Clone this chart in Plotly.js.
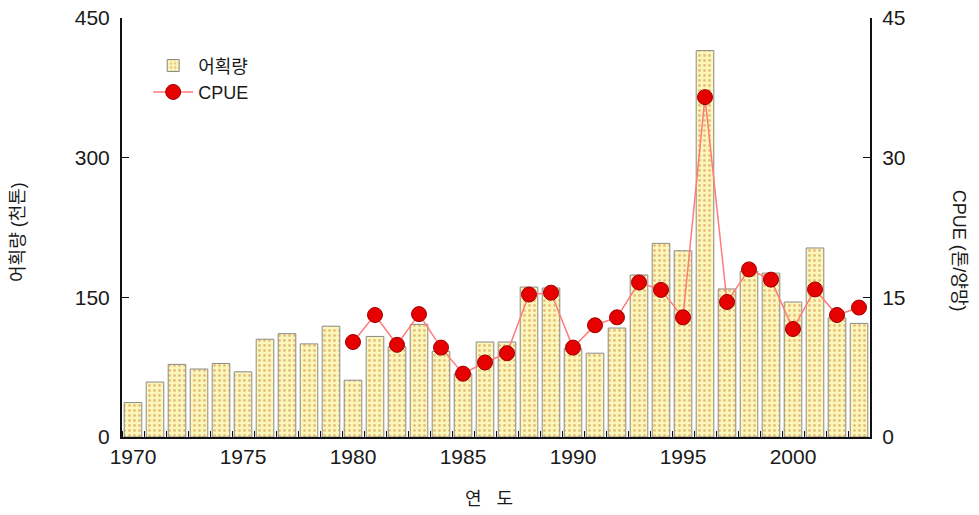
<!DOCTYPE html>
<html>
<head>
<meta charset="utf-8">
<script src="https://cdn.plot.ly/plotly-3.0.1.min.js"></script>
<style>html,body{margin:0;padding:0;background:#fff;}#chart{width:979px;height:515px;}</style>
</head>
<body>
<div id="chart"></div>
<script>
const years = [1970,1971,1972,1973,1974,1975,1976,1977,1978,1979,1980,1981,1982,1983,1984,1985,1986,1987,1988,1989,1990,1991,1992,1993,1994,1995,1996,1997,1998,1999,2000,2001,2002,2003];
const catch_kt = [37,59,78,73,79,70,105,111,100,119,61,108,97,121,92,68,102,102,161,160,95,90,117,174,208,200,415,159,178,176,145,203,128,122];
const cpueYears = [1980,1981,1982,1983,1984,1985,1986,1987,1988,1989,1990,1991,1992,1993,1994,1995,1996,1997,1998,1999,2000,2001,2002,2003];
const cpue = [10.2,13.1,9.9,13.2,9.6,6.8,8.0,9.0,15.3,15.5,9.6,12.0,12.85,16.6,15.8,12.85,36.5,14.5,18.0,16.9,11.6,15.85,13.1,13.9];
const leftTicks = [0,150,300,450];
const rightTicks = [0,15,30,45];
const xTicks = [1970,1975,1980,1985,1990,1995,2000];

const FONT = "'Liberation Sans', Arial, 'Noto Sans CJK KR', sans-serif";

const traces = [
  {
    type: 'bar', x: years, y: catch_kt, name: '어획량', width: 0.8,
    marker: {
      color: '#fbf6bc',
      line: {color: '#8a8a8a', width: 1},
      pattern: {shape: '.', fgcolor: '#e8bf78', bgcolor: '#fbf6bc', size: 5, solidity: 0.25}
    },
    yaxis: 'y'
  },
  {
    type: 'scatter', mode: 'lines+markers', x: cpueYears, y: cpue, name: 'CPUE',
    line: {color: '#ff7a7a', width: 1.5},
    marker: {color: '#e60000', size: 15, line: {color: '#a00000', width: 1}},
    yaxis: 'y2'
  }
];

const layout = {
  width: 979, height: 515,
  margin: {l: 122, r: 109, t: 18, b: 78},
  paper_bgcolor: '#fff', plot_bgcolor: '#fff',
  font: {family: FONT, size: 20, color: '#1a1a1a'},
  showlegend: true,
  legend: {x: 0.035, y: 0.93, xanchor: 'left', yanchor: 'top', bgcolor: 'rgba(0,0,0,0)',
           font: {family: FONT, size: 18, color: '#1a1a1a'}, tracegroupgap: 0, itemwidth: 40},
  bargap: 0.2,
  xaxis: {
    range: [1969.5, 2003.5], tickvals: xTicks, ticktext: xTicks.map(String),
    ticks: '', showgrid: false, zeroline: false,
    showline: true, linecolor: '#111', linewidth: 2,
    minor: {tick0: 1969.5, dtick: 1, ticks: 'inside', ticklen: 6, tickcolor: '#111', showgrid: false},
    tickfont: {family: FONT, size: 21, color: '#1a1a1a'}
  },
  yaxis: {
    range: [0, 450], tickvals: leftTicks, ticktext: leftTicks.map(String),
    ticks: 'inside', ticklen: 7, tickcolor: '#111',
    showgrid: false, zeroline: false, showline: true, linecolor: '#111', linewidth: 2,
    tickfont: {family: FONT, size: 21, color: '#1a1a1a'}, ticklabelstandoff: 6
  },
  yaxis2: {
    range: [0, 45], tickvals: rightTicks, ticktext: rightTicks.map(String),
    overlaying: 'y', side: 'right', anchor: 'x',
    ticks: 'inside', ticklen: 7, tickcolor: '#111',
    showgrid: false, zeroline: false, showline: true, linecolor: '#111', linewidth: 2,
    tickfont: {family: FONT, size: 21, color: '#1a1a1a'}, ticklabelstandoff: 6
  },
  annotations: [
    {text: '어획량 (천톤)', xref: 'paper', yref: 'paper', x: -0.14, y: 0.49, textangle: -90,
     xanchor: 'center', yanchor: 'middle',
     showarrow: false, font: {family: FONT, size: 18, color: '#1a1a1a'}},
    {text: 'CPUE (톤/양망)', xref: 'paper', yref: 'paper', x: 1.12, y: 0.445, textangle: 90,
     xanchor: 'center', yanchor: 'middle',
     showarrow: false, font: {family: FONT, size: 18, color: '#1a1a1a'}},
    {text: '연   도', xref: 'paper', yref: 'paper', x: 0.49, y: -0.12, yanchor: 'top',
     showarrow: false, font: {family: FONT, size: 18, color: '#1a1a1a'}}
  ]
};

Plotly.newPlot('chart', traces, layout, {displayModeBar: false, staticPlot: true});
</script>
</body>
</html>
